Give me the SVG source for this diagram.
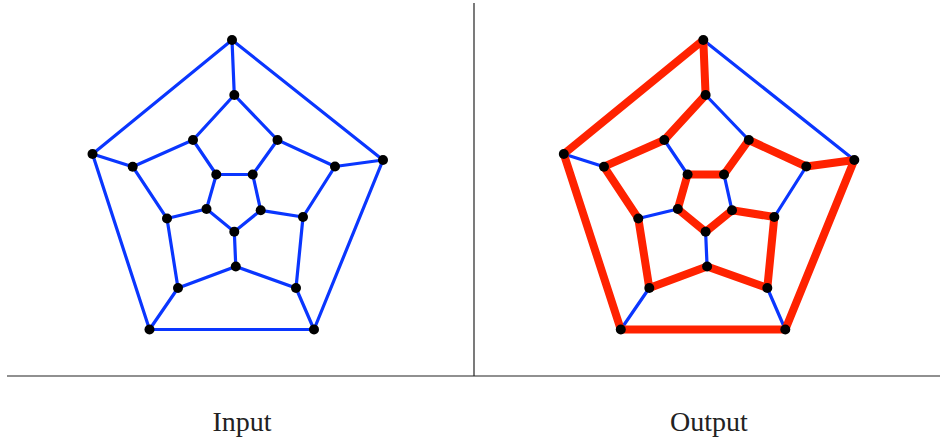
<svg xmlns="http://www.w3.org/2000/svg" width="940" height="438" viewBox="0 0 940 438">
<style>
.b{stroke:#0a36ff;stroke-width:3.2;fill:none;stroke-linecap:round}
.r{stroke:#ff2200;stroke-width:8;fill:none;stroke-linecap:round}
.n{fill:#000}
.frame{stroke:#222;stroke-width:1.2;fill:none}
.lbl{font-family:"Liberation Serif","DejaVu Serif",serif;font-size:28px;fill:#222;text-anchor:middle}
</style>
<rect width="940" height="438" fill="#fff"/>
<g id="frame">
<line class="frame" x1="7" y1="376" x2="940" y2="376"/>
<line class="frame" x1="474" y1="3" x2="474" y2="376"/>
</g>
<g id="connectors">
<g id="left-edges">
<path class="b" d="M232,40 L383,160 L314,329.5 L149.5,329.5 L92.5,154 Z"/>
<path class="b" d="M234.3,95 L277.5,140 L335,166.5 L303,217 L296,288 L235.8,266.5 L178,288 L167,218.5 L132.7,166.7 L193,140 Z"/>
<path class="b" d="M216.3,174.5 L252.7,174.5 L260.7,210.3 L234.3,231.8 L206.5,209 Z"/>
<path class="b" d="M232,40 L234.3,95 M383,160 L335,166.5 M314,329.5 L296,288 M149.5,329.5 L178,288 M92.5,154 L132.7,166.7"/>
<path class="b" d="M277.5,140 L252.7,174.5 M303,217 L260.7,210.3 M235.8,266.5 L234.3,231.8 M167,218.5 L206.5,209 M193,140 L216.3,174.5"/>
</g>
<g id="right-edges">
<path class="b" d="M703.3,40 L854.3,160 M705.6,95 L748.8,140 M563.8,154 L604,166.7 M664.3,140 L687.6,174.5 M638.3,218.5 L677.8,209 M649.3,288 L620.8,329.5 M707.1,266.5 L705.6,231.8 M767.3,288 L785.3,329.5 M774.3,217 L806.3,166.5 M724,174.5 L732,210.3"/>
<path class="r" d="M703.3,40 L705.6,95 L664.3,140 L604,166.7 L638.3,218.5 L649.3,288 L707.1,266.5 L767.3,288 L774.3,217 L732,210.3 L705.6,231.8 L677.8,209 L687.6,174.5 L724,174.5 L748.8,140 L806.3,166.5 L854.3,160 L785.3,329.5 L620.8,329.5 L563.8,154 Z" stroke-linejoin="round"/>
</g>
</g>
<g id="left-nodes">
<g id="L-T"><circle class="n" cx="232" cy="40" r="5"/></g>
<g id="L-L"><circle class="n" cx="92.5" cy="154" r="5"/></g>
<g id="L-R"><circle class="n" cx="383" cy="160" r="5"/></g>
<g id="L-BL"><circle class="n" cx="149.5" cy="329.5" r="5"/></g>
<g id="L-BR"><circle class="n" cx="314" cy="329.5" r="5"/></g>
<g id="L-a1"><circle class="n" cx="234.3" cy="95" r="5"/></g>
<g id="L-a2"><circle class="n" cx="277.5" cy="140" r="5"/></g>
<g id="L-a3"><circle class="n" cx="335" cy="166.5" r="5"/></g>
<g id="L-a4"><circle class="n" cx="303" cy="217" r="5"/></g>
<g id="L-a5"><circle class="n" cx="296" cy="288" r="5"/></g>
<g id="L-a6"><circle class="n" cx="235.8" cy="266.5" r="5"/></g>
<g id="L-a7"><circle class="n" cx="178" cy="288" r="5"/></g>
<g id="L-a8"><circle class="n" cx="167" cy="218.5" r="5"/></g>
<g id="L-a9"><circle class="n" cx="132.7" cy="166.7" r="5"/></g>
<g id="L-a10"><circle class="n" cx="193" cy="140" r="5"/></g>
<g id="L-b1"><circle class="n" cx="216.3" cy="174.5" r="5"/></g>
<g id="L-b2"><circle class="n" cx="252.7" cy="174.5" r="5"/></g>
<g id="L-b3"><circle class="n" cx="260.7" cy="210.3" r="5"/></g>
<g id="L-b4"><circle class="n" cx="234.3" cy="231.8" r="5"/></g>
<g id="L-b5"><circle class="n" cx="206.5" cy="209" r="5"/></g>
</g>
<g id="right-nodes">
<g id="R-T"><circle class="n" cx="703.3" cy="40" r="5"/></g>
<g id="R-L"><circle class="n" cx="563.8" cy="154" r="5"/></g>
<g id="R-R"><circle class="n" cx="854.3" cy="160" r="5"/></g>
<g id="R-BL"><circle class="n" cx="620.8" cy="329.5" r="5"/></g>
<g id="R-BR"><circle class="n" cx="785.3" cy="329.5" r="5"/></g>
<g id="R-a1"><circle class="n" cx="705.6" cy="95" r="5"/></g>
<g id="R-a2"><circle class="n" cx="748.8" cy="140" r="5"/></g>
<g id="R-a3"><circle class="n" cx="806.3" cy="166.5" r="5"/></g>
<g id="R-a4"><circle class="n" cx="774.3" cy="217" r="5"/></g>
<g id="R-a5"><circle class="n" cx="767.3" cy="288" r="5"/></g>
<g id="R-a6"><circle class="n" cx="707.1" cy="266.5" r="5"/></g>
<g id="R-a7"><circle class="n" cx="649.3" cy="288" r="5"/></g>
<g id="R-a8"><circle class="n" cx="638.3" cy="218.5" r="5"/></g>
<g id="R-a9"><circle class="n" cx="604" cy="166.7" r="5"/></g>
<g id="R-a10"><circle class="n" cx="664.3" cy="140" r="5"/></g>
<g id="R-b1"><circle class="n" cx="687.6" cy="174.5" r="5"/></g>
<g id="R-b2"><circle class="n" cx="724" cy="174.5" r="5"/></g>
<g id="R-b3"><circle class="n" cx="732" cy="210.3" r="5"/></g>
<g id="R-b4"><circle class="n" cx="705.6" cy="231.8" r="5"/></g>
<g id="R-b5"><circle class="n" cx="677.8" cy="209" r="5"/></g>
</g>
<g id="labels">
<text class="lbl" x="242" y="431">Input</text>
<text class="lbl" x="709" y="431">Output</text>
</g>
</svg>
